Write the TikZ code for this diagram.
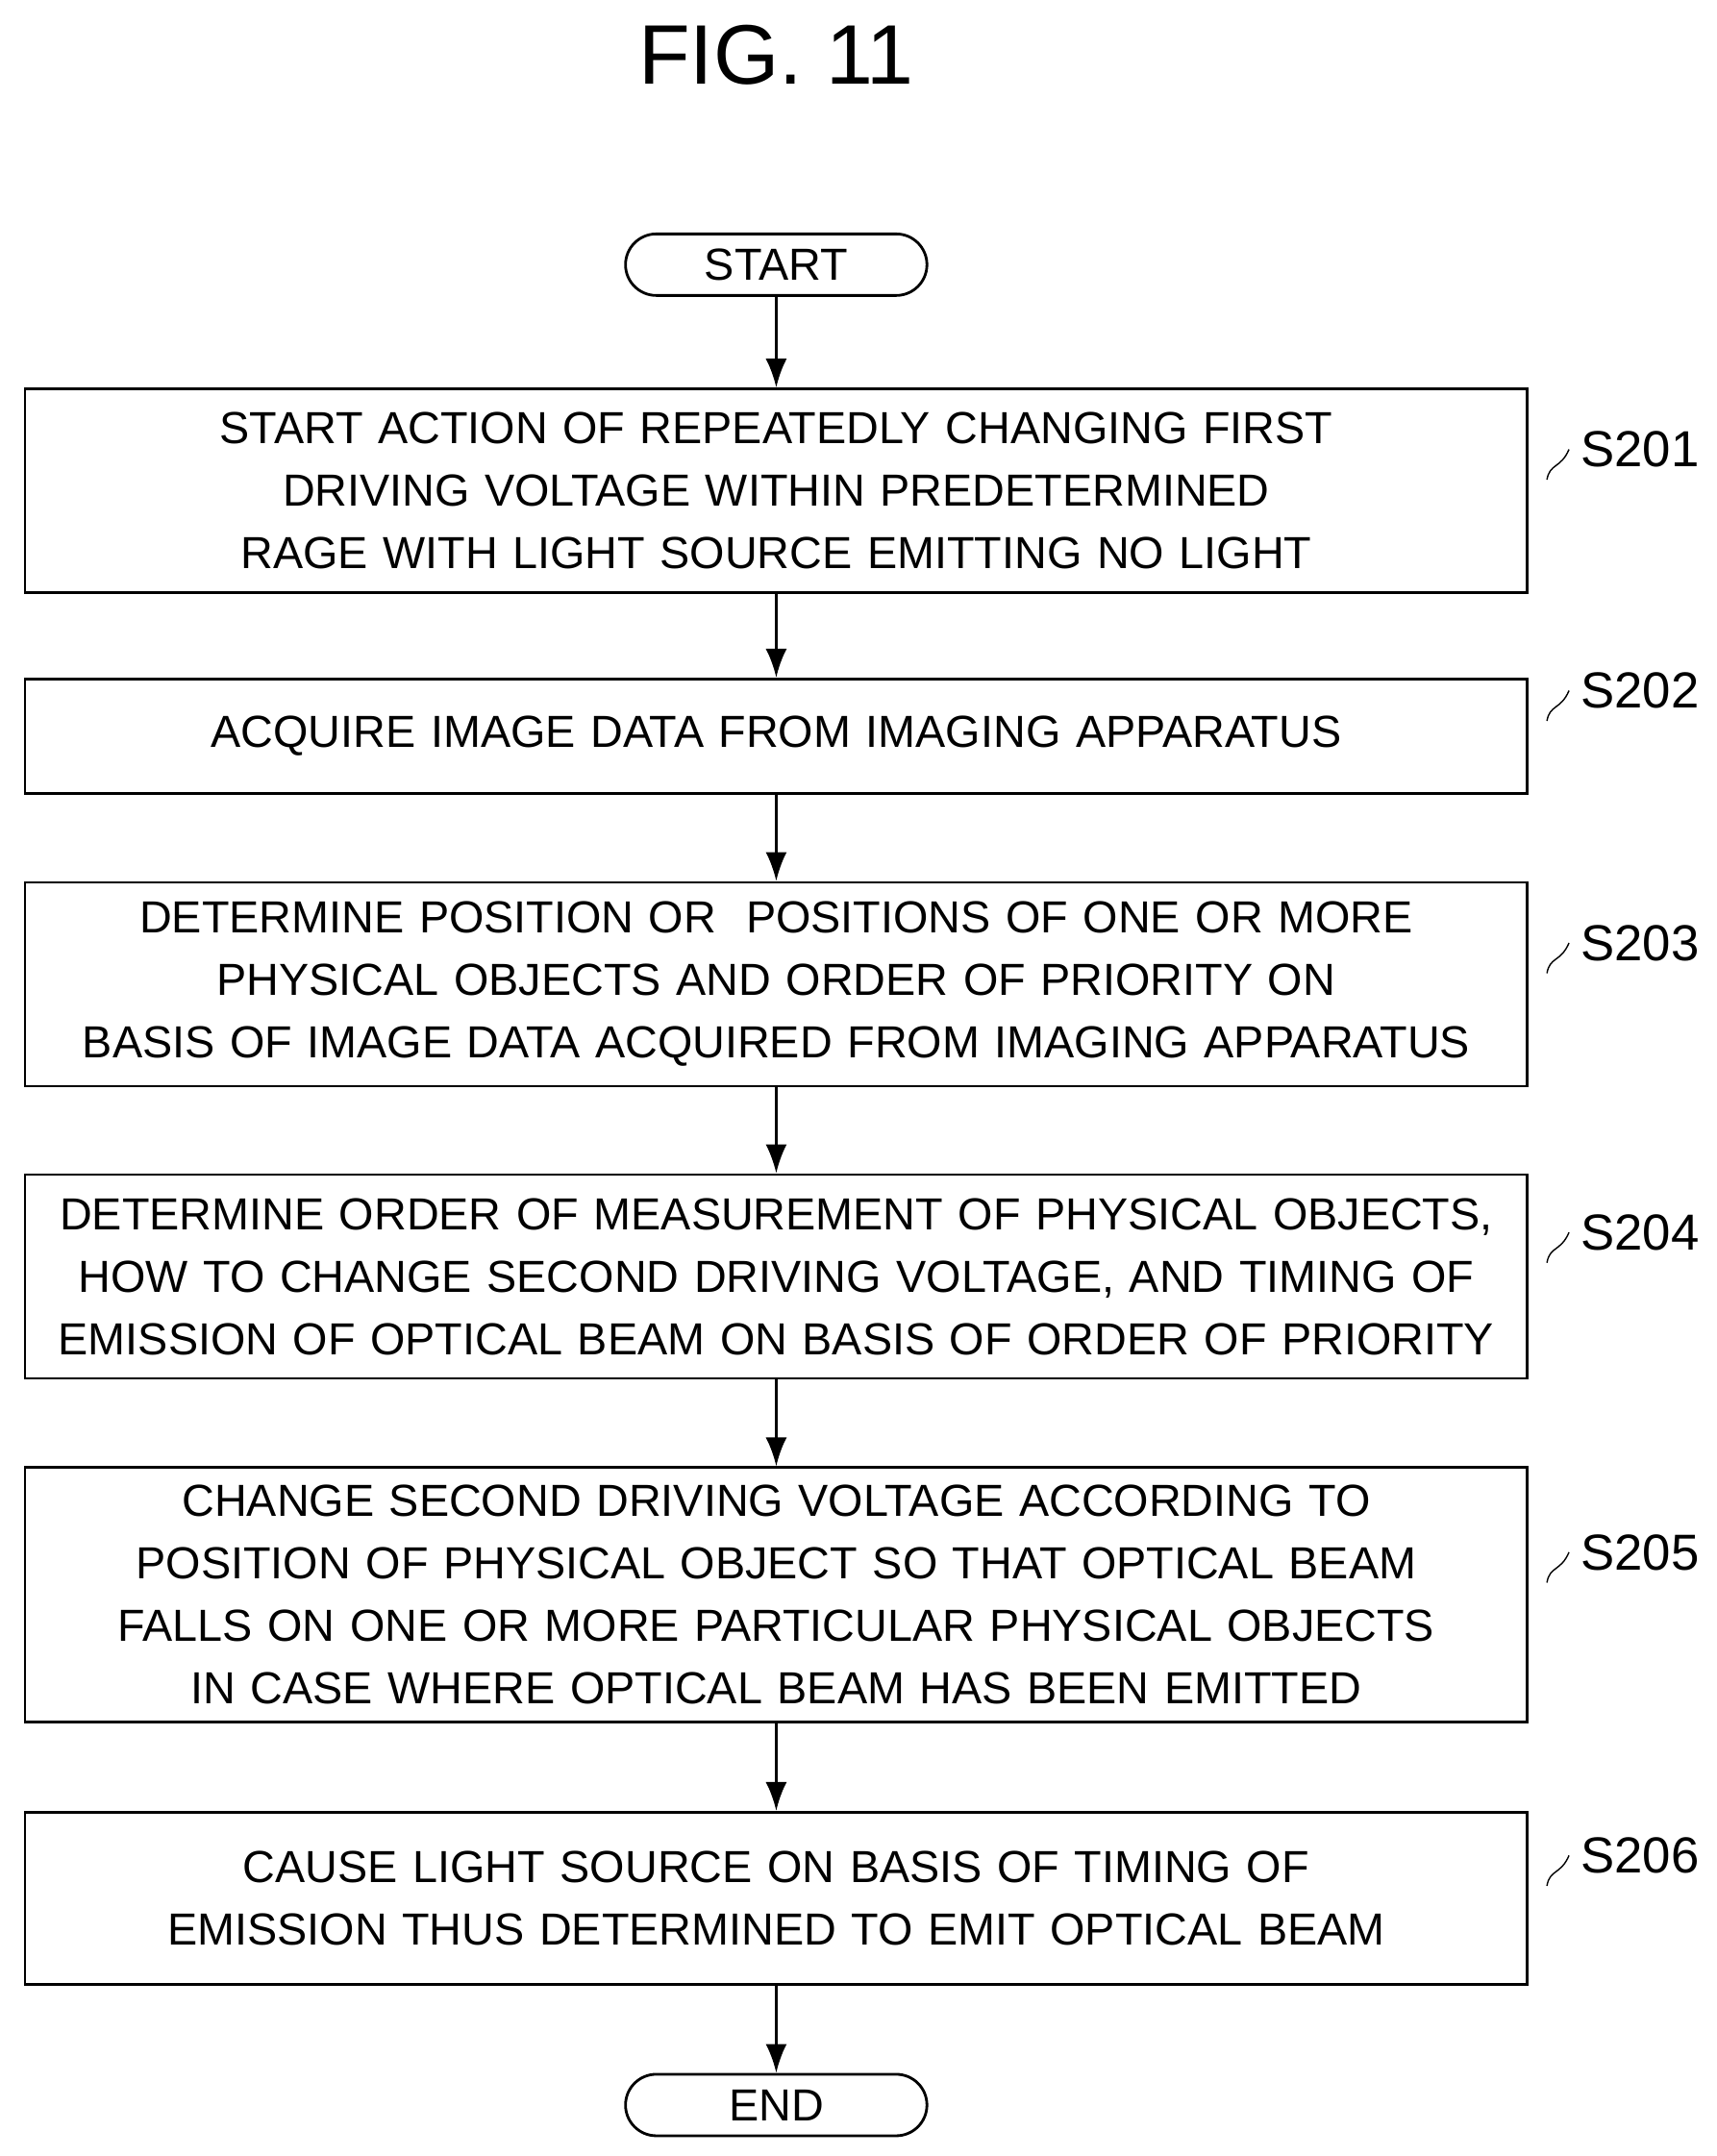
\documentclass[tikz,border=0pt]{standalone}
\usepackage{fontspec}
\setmainfont{Liberation Sans}
\usetikzlibrary{arrows.meta,shapes.misc}
\begin{document}
\begin{tikzpicture}[x=0.014337cm,y=-0.014337cm,
  every node/.style={font=\fontsize{13.3}{18.5}\selectfont},
  box/.style={draw,thick,text width=15.3cm,minimum width=15.63cm,align=center},
  term/.style={draw,thick,rounded rectangle,minimum width=3.37cm,minimum height=0.64cm},
  flow/.style={thick,-{Latex[length=3mm,width=2.2mm]}},
  tag/.style={font=\fontsize{15}{18}\selectfont,anchor=west}]
  \useasboundingbox (0,0) rectangle (1245,1564);

  \node[font=\fontsize{25}{30}\selectfont] (title) at (563,40) {FIG. 11};

  \node[term] (start) at (563,192) {START};

  \node[box,minimum height=2.12cm] (s201) at (563,356)
    {START ACTION OF REPEATEDLY CHANGING FIRST\\DRIVING VOLTAGE WITHIN PREDETERMINED\\RAGE WITH LIGHT SOURCE EMITTING NO LIGHT};
  \node[box,minimum height=1.19cm] (s202) at (563,534)
    {ACQUIRE IMAGE DATA FROM IMAGING APPARATUS};
  \node[box,minimum height=2.12cm] (s203) at (563,714)
    {DETERMINE POSITION OR\ \ POSITIONS OF ONE OR MORE\\PHYSICAL OBJECTS AND ORDER OF PRIORITY ON\\BASIS OF IMAGE DATA ACQUIRED FROM IMAGING APPARATUS};
  \node[box,minimum height=2.12cm] (s204) at (563,926)
    {DETERMINE ORDER OF MEASUREMENT OF PHYSICAL OBJECTS,\\HOW TO CHANGE SECOND DRIVING VOLTAGE, AND TIMING OF\\EMISSION OF OPTICAL BEAM ON BASIS OF ORDER OF PRIORITY};
  \node[box,minimum height=2.65cm] (s205) at (563,1157)
    {CHANGE SECOND DRIVING VOLTAGE ACCORDING TO\\POSITION OF PHYSICAL OBJECT SO THAT OPTICAL BEAM\\FALLS ON ONE OR MORE PARTICULAR PHYSICAL OBJECTS\\IN CASE WHERE OPTICAL BEAM HAS BEEN EMITTED};
  \node[box,minimum height=1.79cm] (s206) at (563,1377)
    {CAUSE LIGHT SOURCE ON BASIS OF TIMING OF\\EMISSION THUS DETERMINED TO EMIT OPTICAL BEAM};

  \node[term] (end) at (563,1527) {END};

  \draw[flow] (start) -- (s201);
  \draw[flow] (s201) -- (s202);
  \draw[flow] (s202) -- (s203);
  \draw[flow] (s203) -- (s204);
  \draw[flow] (s204) -- (s205);
  \draw[flow] (s205) -- (s206);
  \draw[flow] (s206) -- (end);

  % step labels
  \foreach \s/\y in {201/326,202/501,203/684,204/894,205/1126,206/1346}{
    \node[tag] (l\s) at (1138,\y) {S\s};
    \coordinate (q\s) at (1122,\y+22);
    \draw (q\s) .. controls (1124,\y+10) and (1132,\y+14) .. (l\s.west);
  }
\end{tikzpicture}
\end{document}
